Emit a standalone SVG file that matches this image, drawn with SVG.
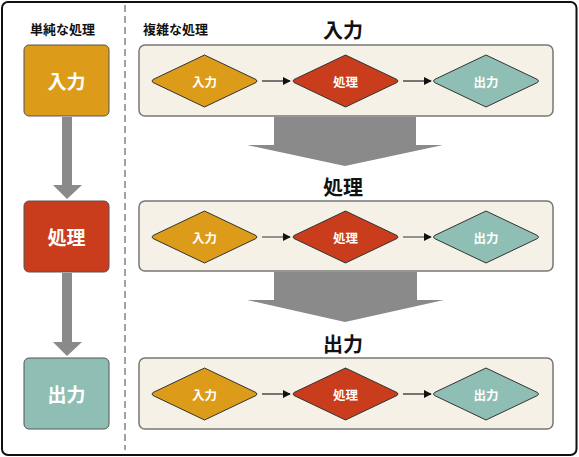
<svg xmlns="http://www.w3.org/2000/svg" width="579" height="457" viewBox="0 0 579 457">
<defs>
<style>
.t{font-family:"Noto Sans CJK JP","Noto Sans",sans-serif;text-anchor:middle;dominant-baseline:central}
.head{font-size:13px;font-weight:bold;fill:#111;text-anchor:start}
.title{font-size:20px;font-weight:bold;fill:#111}
.box{stroke:#555;stroke-width:1}
.blab{font-size:19px;font-weight:bold;fill:#fff}
.dlab{font-size:12.5px;font-weight:bold;fill:#fff}
.panel{fill:#F5F1E6;stroke:#777;stroke-width:1.5}
.dia{stroke:#333;stroke-width:1}
.gold{fill:#DC9B18}.red{fill:#C93C1C}.teal{fill:#8FBFB4}
.big{fill:#8A8A8A}
.con{stroke:#222;stroke-width:1.2;fill:none}
.con2{stroke:#888;stroke-width:1.8;fill:none}
</style>
<marker id="ah" viewBox="0 0 10 10" refX="9" refY="5" markerWidth="8" markerHeight="8" markerUnits="userSpaceOnUse" orient="auto">
<path d="M0,0 L10,5 L0,10 Z" fill="#111"/>
</marker>
</defs>
<rect x="2" y="2" width="574.5" height="453" rx="6" fill="#fff" stroke="#111" stroke-width="2"/>
<line x1="125" y1="5" x2="125" y2="450" stroke="#444" stroke-width="1" stroke-dasharray="7,4"/>
<text class="t head" x="30" y="28">単純な処理</text>
<text class="t head" x="143" y="28">複雑な処理</text>

<g id="simple-input"><rect class="box gold" x="24" y="45" width="85" height="71" rx="5"/><text class="t blab" x="66.5" y="80">入力</text></g>
<g id="simple-process"><rect class="box red" x="24" y="201" width="85" height="71" rx="5"/><text class="t blab" x="66.5" y="236">処理</text></g>
<g id="simple-output"><rect class="box teal" x="24" y="358" width="85" height="71" rx="5"/><text class="t blab" x="66.5" y="393">出力</text></g>

<g id="stage-input">
<text class="t title" x="343" y="29">入力</text>
<rect class="panel" x="139" y="45" width="414" height="71" rx="6"/>
<g id="s1-in"><path class="dia gold" d="M204.5,55 L256,79.5 Q258,81 256,82.5 L204.5,107 L153,82.5 Q151,81 153,79.5 Z"/><text class="t dlab" x="204.5" y="81">入力</text></g>
<g id="s1-proc"><path class="dia red" d="M345.5,55 L397,79.5 Q399,81 397,82.5 L345.5,107 L294,82.5 Q292,81 294,79.5 Z"/><text class="t dlab" x="345.5" y="81">処理</text></g>
<g id="s1-out"><path class="dia teal" d="M486,55 L537.5,79.5 Q539.5,81 537.5,82.5 L486,107 L434.5,82.5 Q432.5,81 434.5,79.5 Z"/><text class="t dlab" x="486" y="81">出力</text></g>
</g>

<g id="stage-process">
<text class="t title" x="343" y="186">処理</text>
<rect class="panel" x="139" y="201" width="414" height="70" rx="6"/>
<g id="s2-in"><path class="dia gold" d="M204.5,211 L256,235.5 Q258,237 256,238.5 L204.5,263 L153,238.5 Q151,237 153,235.5 Z"/><text class="t dlab" x="204.5" y="237">入力</text></g>
<g id="s2-proc"><path class="dia red" d="M345.5,211 L397,235.5 Q399,237 397,238.5 L345.5,263 L294,238.5 Q292,237 294,235.5 Z"/><text class="t dlab" x="345.5" y="237">処理</text></g>
<g id="s2-out"><path class="dia teal" d="M486,211 L537.5,235.5 Q539.5,237 537.5,238.5 L486,263 L434.5,238.5 Q432.5,237 434.5,235.5 Z"/><text class="t dlab" x="486" y="237">出力</text></g>
</g>

<g id="stage-output">
<text class="t title" x="343" y="343">出力</text>
<rect class="panel" x="139" y="358" width="414" height="71" rx="6"/>
<g id="s3-in"><path class="dia gold" d="M204.5,368 L256,392.5 Q258,394 256,395.5 L204.5,420 L153,395.5 Q151,394 153,392.5 Z"/><text class="t dlab" x="204.5" y="394">入力</text></g>
<g id="s3-proc"><path class="dia red" d="M345.5,368 L397,392.5 Q399,394 397,395.5 L345.5,420 L294,395.5 Q292,394 294,392.5 Z"/><text class="t dlab" x="345.5" y="394">処理</text></g>
<g id="s3-out"><path class="dia teal" d="M486,368 L537.5,392.5 Q539.5,394 537.5,395.5 L486,420 L434.5,395.5 Q432.5,394 434.5,392.5 Z"/><text class="t dlab" x="486" y="394">出力</text></g>
</g>

<g id="connectors">
<path class="big" d="M62,117 H72 V185 H82 L67,199 L53,185 H62 Z"/>
<path class="big" d="M62,273 H72 V342 H82 L67,356 L53,342 H62 Z"/>
<path class="big" d="M274,117 H416 V145 H443 L345,166 L247,145 H274 Z"/>
<path class="big" d="M274,272 H417 V300 H444 L345,322 L247,300 H274 Z"/>
<line class="con" x1="262" y1="81" x2="290" y2="81" marker-end="url(#ah)"/>
<line class="con" x1="403" y1="81" x2="431" y2="81" marker-end="url(#ah)"/>
<line class="con2" x1="262" y1="237" x2="290" y2="237" marker-end="url(#ah)"/>
<line class="con2" x1="403" y1="237" x2="431" y2="237" marker-end="url(#ah)"/>
<line class="con" x1="262" y1="394" x2="290" y2="394" marker-end="url(#ah)"/>
<line class="con" x1="403" y1="394" x2="431" y2="394" marker-end="url(#ah)"/>
</g>
</svg>
